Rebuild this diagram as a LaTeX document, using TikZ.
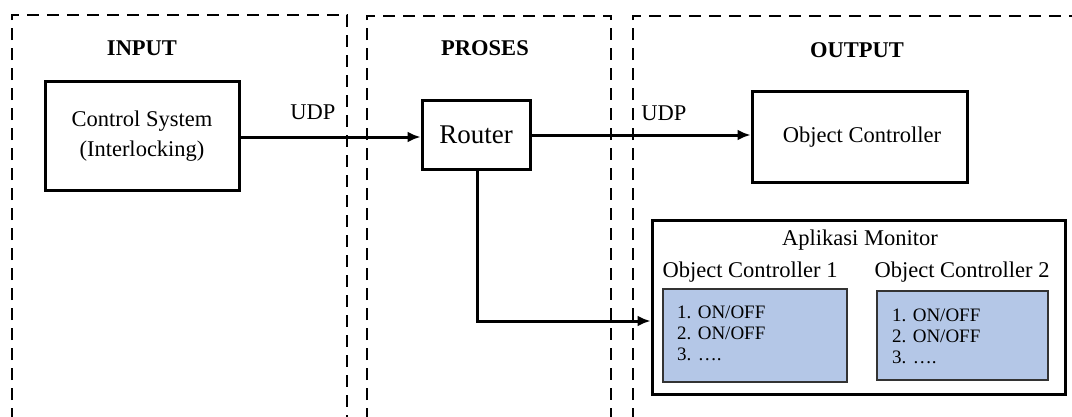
\documentclass[tikz,border=0pt]{standalone}
\usepackage{fontspec}
\setmainfont{Liberation Serif}
\usetikzlibrary{arrows.meta}
\definecolor{panelblue}{RGB}{180,199,231}
\tikzset{
  x=1pt,y=-1pt,
  group/.style={draw=black,line width=2pt,dash pattern=on 12pt off 8pt},
  solidbox/.style={draw=black,line width=3pt,fill=white,inner sep=0pt},
  listbox/.style={draw=black!80,line width=1.2pt,fill=panelblue,inner sep=0pt},
  txt/.style={font=\fontsize{22.5}{27}\selectfont,inner sep=0pt},
  head/.style={font=\fontsize{22.5}{27}\selectfont\bfseries,inner sep=0pt},
  small/.style={font=\fontsize{19}{23}\selectfont,inner sep=0pt,align=left,anchor=north west},
  conn/.style={line width=3pt,-{Latex[length=13pt,width=11pt]}},
}
\begin{document}
\begin{tikzpicture}
\useasboundingbox (0,0) rectangle (1072,416);
\begin{scope}
\clip (0,0) rectangle (1072,416);
% groups
\draw[group] (12,440) -- (12,15) -- (347,15) -- (347,440);
\draw[group] (367,440) -- (367,16) -- (611,16) -- (611,440);
\draw[group] (633,440) -- (633,16) -- (1090,16);
\end{scope}
\node[head] (hin) at (142,48) {INPUT};
\node[head] (hpr) at (485,48) {PROSES};
\node[head] (hout) at (857,50) {OUTPUT};
% boxes
\node[solidbox,minimum width=194pt,minimum height=109pt] (cs) at (142,135.5) {};
\node[txt] (cs1) at (142,121) {Control System};
\node[txt] (cs2) at (142,151) {(Interlocking)};
\node[solidbox,minimum width=108pt,minimum height=69pt,font=\fontsize{27}{30}\selectfont] (router) at (476,134.5) {Router};
\node[solidbox,minimum width=215pt,minimum height=91pt] (oc) at (859.5,136.5) {};
\node[txt] (oct) at (862,137) {Object Controller};
\node[solidbox,minimum width=413pt,minimum height=174pt] (mon) at (858.5,307) {};
\node[txt] (mont) at (860,240) {Aplikasi Monitor};
\node[txt] (oc1t) at (750,272) {Object Controller 1};
\node[txt] (oc2t) at (962,272) {Object Controller 2};
\node[listbox,minimum width=184pt,minimum height=93pt] (l1) at (755,335.5) {};
\node[listbox,minimum width=171pt,minimum height=89pt] (l2) at (962.5,335.5) {};
\node[small] (l1t) at (677,306) {1. ON/OFF\\[-2pt]2. ON/OFF\\[-2pt]3. ….};
\node[small] (l2t) at (892,309) {1. ON/OFF\\[-2pt]2. ON/OFF\\[-2pt]3. ….};
% connectors
\draw[conn] (cs.east |- 0,137) -- (router.west |- 0,137);
\node[txt] (udp1) at (313,112) {UDP};
\draw[conn] (router.east |- 0,135) -- (oc.west |- 0,135);
\node[txt] (udp2) at (664,113) {UDP};
\coordinate (bend) at (477,321);
\draw[conn] (router.south -| bend) -- (bend) -- (mon.west |- bend);
\end{tikzpicture}
\end{document}
